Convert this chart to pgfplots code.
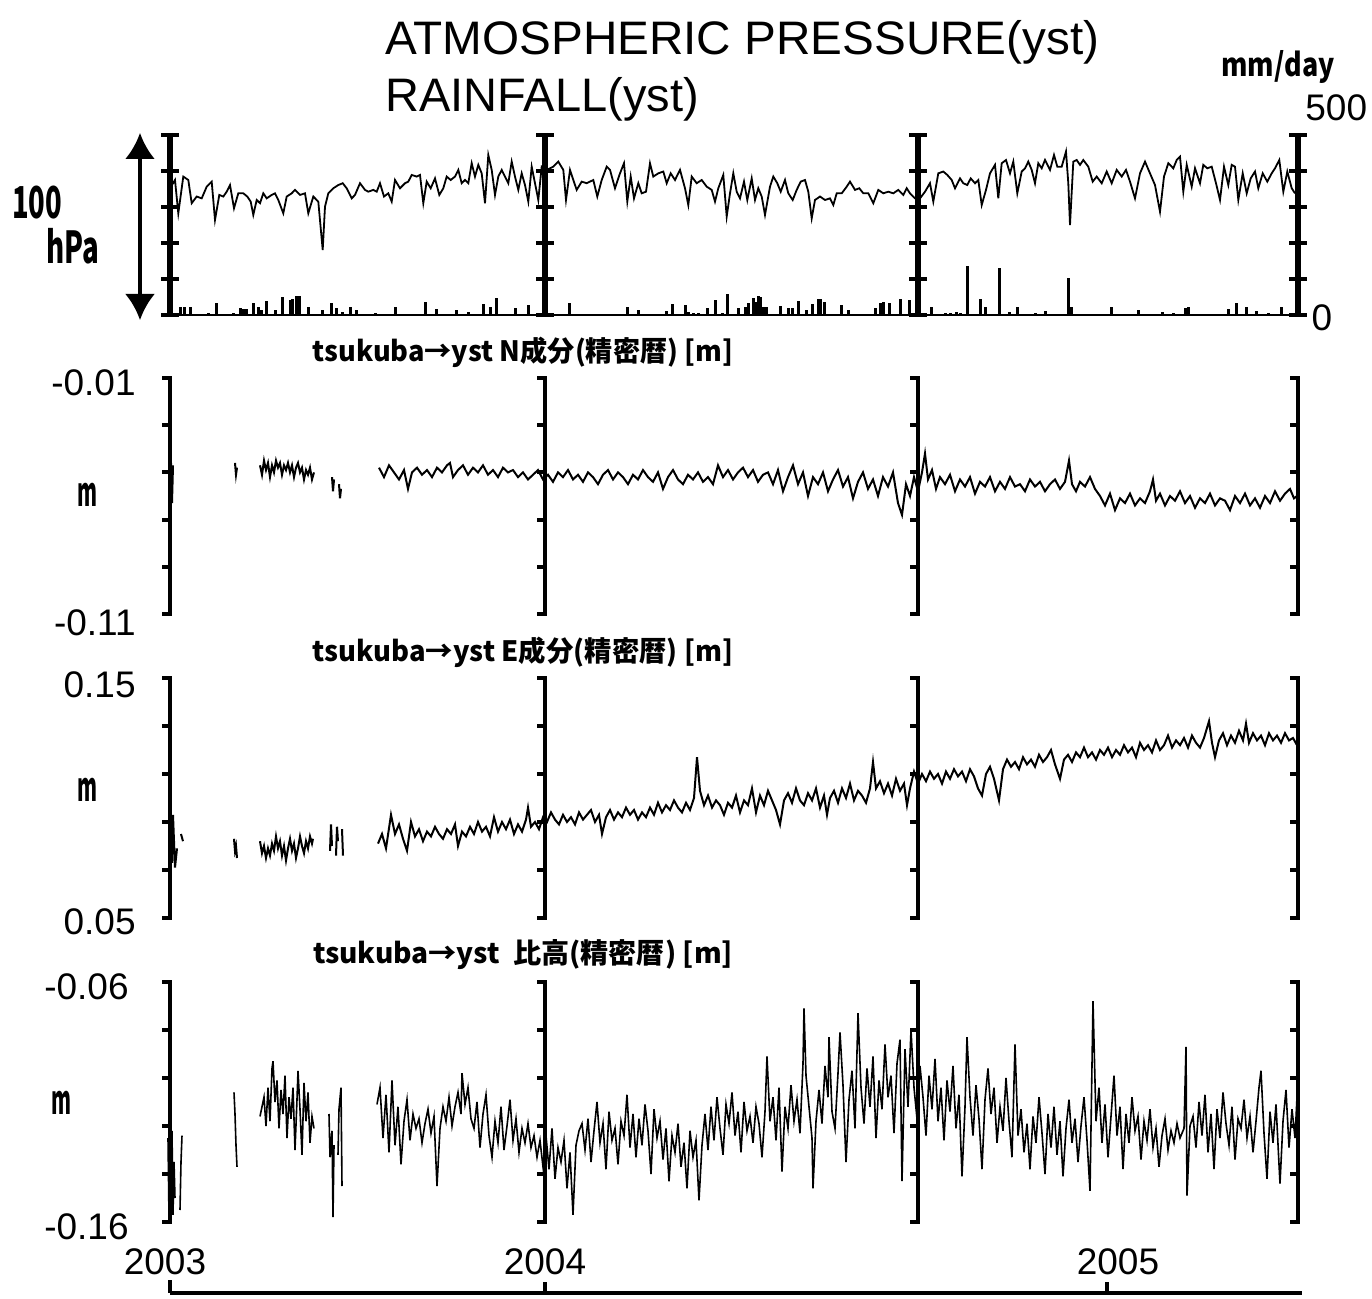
\documentclass[border=0pt]{standalone}
\usepackage{pgfplots}
\pgfplotsset{compat=1.18}
\usepackage{graphicx}
\usepackage{fontspec}
\setmainfont{Liberation Sans}
\newfontfamily\cjk{Noto Sans CJK JP}
\usetikzlibrary{arrows.meta}
\begin{document}
\begin{tikzpicture}[x=0.5pt,y=-0.5pt]
\path[use as bounding box] (0,0) rectangle (1372,1299);
\pgfplotsset{panel/.style={scale only axis, width=564pt, xmin=170, xmax=1298, axis lines=none, anchor=south west, clip=false, unbounded coords=jump}}

% ---------- Panel 1: rainfall ----------
\begin{axis}[panel, at={(85pt,-157.5pt)}, height=90pt, ymin=0, ymax=500]
\addplot[ycomb, black, line width=1.5pt] coordinates {
(180.7,23)(184,23)(190,21)(208.3,5)(216,32)(233.3,6)(240,19)(243.3,16)(246,16)(253.3,32)(258.3,23)(261.7,14)(266.7,39)(275,14)(282.7,51)(290,42)(292,44)(296.7,54)(299.3,54)(308.3,23)(322.7,14)(331.7,34)(336.7,19)(342.7,9)(350.7,23)(356.7,14)(375,6)(395,23)(425,37)(436,18)(456.7,14)(468.3,9)(483.3,31)(490,23)(496.7,46)(515,20)(528.3,28)(540,6)
(569.3,34)(627.3,21)(638.3,14)(666,12)(672.7,30)(685,28)(688.3,9)(693.3,5)(698.3,5)(707.3,20)(715.7,42)(722.7,5)(727.7,58)(738.3,19)(745,23)(748.3,32)(753.3,46)(756,37)(758.3,54)(760,51)(763.3,23)(766,23)(780,26)(788.3,19)(792.7,20)(798.3,40)(806.7,14)(812.7,30)(818.3,44)(820.7,44)(824,37)(841.7,28)(848.3,14)(875,20)(880,34)(883.3,37)(889.3,34)(900,44)(909.3,42)
(931.7,21)(945,5)(950,5)(956.7,9)(960,6)(967.3,136)(980.7,44)(985,21)(999.3,130)(1009.3,9)(1017.3,23)(1035,5)(1045,11)(1068.3,102)(1071.7,23)(1111.7,21)(1138.3,14)(1162.7,9)(1173.3,5)(1185,19)(1188.3,23)(1228.3,17)(1236.7,32)(1246.7,21)(1256.7,12)(1268.3,6)(1281.7,23)
};
\end{axis}

% ---------- Panel 1: pressure ----------
\begin{axis}[panel, at={(85pt,-157.5pt)}, height=90pt, ymin=940, ymax=1040]
\addplot[black, line width=0.9pt] coordinates {
(170.0,1010.4)(175.0,1015.0)(178.3,996.5)(183.3,1016.9)(188.3,1015.0)(191.7,1002.1)(196.7,1005.8)(201.7,1004.8)(206.7,1011.3)(211.7,1014.1)(215.0,992.8)(219.3,1006.7)(223.3,1005.8)(226.7,1008.5)(230.0,1012.2)(234.0,999.3)(238.3,1007.6)(243.3,1007.6)(247.3,1005.8)(250.7,1003.0)(253.3,995.6)(256.7,1003.9)(260.0,1002.1)(263.3,1007.6)(266.7,1004.8)(271.7,1006.7)(275.0,1007.6)(278.3,1003.9)(283.3,996.5)(286.7,1005.8)(291.7,1007.6)(295.0,1009.5)(300.0,1006.7)(305.0,1007.6)(308.3,996.5)(313.3,1005.8)(318.3,1003.0)(322.7,976.1)(325.0,1000.2)(328.3,1007.6)(333.3,1010.4)(338.3,1012.2)(342.7,1013.2)(346.7,1010.4)(351.7,1004.8)(355.0,1006.7)(360.0,1013.2)(365.0,1009.5)(368.3,1008.5)(373.3,1009.5)(376.7,1008.5)(380.0,1013.2)(384.0,1005.8)(388.3,1007.6)(391.7,1003.0)(395.0,1015.0)(400.0,1010.4)(405.0,1013.2)(408.3,1014.1)(411.7,1017.8)(416.7,1016.9)(420.0,1017.8)(423.3,1002.1)(426.7,1014.1)(430.7,1010.4)(435.0,1015.9)(439.3,1006.7)(443.3,1010.4)(446.7,1016.9)(450.7,1015.0)(455.0,1016.9)(458.3,1020.6)(461.7,1013.2)(465.0,1015.0)(468.3,1013.2)(471.7,1024.3)(475.0,1016.9)(478.3,1023.4)(481.7,1018.7)(485.0,1002.1)(488.3,1028.9)(491.7,1020.6)(495.0,1006.7)(498.3,1016.9)(501.7,1020.6)(505.0,1016.9)(508.3,1013.2)(511.7,1025.2)(515.0,1016.9)(518.3,1009.5)(521.7,1018.7)(525.0,1012.2)(528.3,1003.0)(531.7,1022.4)(535.0,1013.2)(538.3,1003.9)(541.7,1022.4)
(546.7,1020.6)(553.3,1022.4)(558.3,1025.2)(563.3,1020.6)(566.0,1003.9)(570.0,1020.6)(573.3,1015.0)(576.7,1009.5)(581.7,1014.1)(586.7,1013.2)(593.3,1015.0)(597.3,1005.8)(601.7,1015.0)(606.7,1022.4)(610.0,1020.6)(615.0,1010.4)(620.0,1018.7)(624.0,1024.3)(627.3,1003.0)(630.7,1016.9)(634.0,1004.8)(638.3,1013.2)(641.7,1007.6)(646.0,1008.5)(650.0,1024.3)(653.3,1016.9)(658.3,1018.7)(663.3,1019.7)(666.7,1013.2)(670.7,1018.7)(675.0,1015.0)(680.0,1020.6)(685.0,1010.4)(688.3,1001.1)(691.7,1016.9)(696.7,1013.2)(701.7,1015.0)(706.7,1011.3)(711.7,1009.5)(715.0,1003.0)(718.3,1010.4)(723.3,1017.8)(726.7,994.7)(730.0,1007.6)(733.3,1018.7)(736.7,1008.5)(740.0,1004.8)(744.0,1014.1)(747.3,1003.9)(751.7,1015.9)(755.0,1003.9)(758.3,1010.4)(761.7,1005.8)(765.0,995.6)(770.0,1011.3)(773.3,1016.9)(777.3,1013.2)(780.7,1008.5)(785.0,1015.0)(788.3,1007.6)(792.7,1003.9)(796.7,1009.5)(800.7,1014.1)(805.0,1015.0)(808.3,1008.5)(811.7,993.7)(815.0,1003.9)(820.0,1005.8)(825.0,1003.9)(830.0,1004.8)(833.3,1001.1)(836.7,1007.6)(841.7,1007.6)(846.7,1011.3)(850.0,1014.1)(855.0,1009.5)(859.3,1010.4)(863.3,1007.6)(868.3,1007.6)(873.3,1002.1)(878.3,1009.5)(883.3,1007.6)(888.3,1008.5)(893.3,1007.6)(898.3,1009.5)(903.3,1006.7)(906.7,1010.4)(910.0,1007.6)(915.0,1004.8)(918.3,1003.9)
(920.0,1004.8)(925.0,1008.5)(930.0,1013.2)(933.3,1003.0)(938.3,1018.7)(943.3,1019.7)(947.3,1017.8)(951.7,1015.0)(955.0,1010.4)(960.0,1015.9)(963.3,1013.2)(967.3,1012.2)(970.7,1015.9)(975.0,1013.2)(978.3,1015.0)(981.7,1001.1)(986.0,1009.5)(990.0,1018.7)(995.0,1023.4)(998.3,1004.8)(1001.7,1024.3)(1006.0,1026.1)(1010.0,1018.7)(1013.3,1025.2)(1017.3,1007.6)(1021.7,1019.7)(1025.0,1021.5)(1028.3,1025.2)(1031.7,1020.6)(1035.0,1013.2)(1038.3,1024.3)(1041.7,1021.5)(1045.0,1026.1)(1050.0,1020.6)(1054.0,1028.9)(1057.3,1022.4)(1061.7,1022.4)(1066.0,1030.8)(1068.3,1013.2)(1070.0,990.0)(1073.3,1025.2)(1076.7,1026.1)(1080.0,1023.4)(1083.3,1026.1)(1088.3,1022.4)(1092.7,1014.1)(1096.7,1016.9)(1101.7,1013.2)(1106.7,1019.7)(1111.7,1013.2)(1116.7,1020.6)(1121.7,1016.9)(1126.0,1020.6)(1130.0,1014.1)(1135.0,1004.8)(1140.0,1018.7)(1145.0,1025.2)(1150.0,1018.7)(1155.0,1012.2)(1160.0,997.4)(1164.0,1016.9)(1168.3,1024.3)(1173.3,1021.5)(1176.7,1026.1)(1180.0,1028.0)(1183.3,1008.5)(1186.7,1023.4)(1191.7,1011.3)(1195.0,1021.5)(1200.0,1013.2)(1203.3,1023.4)(1207.3,1021.5)(1211.7,1022.4)(1216.0,1013.2)(1220.0,1003.9)(1224.0,1022.4)(1228.3,1012.2)(1231.7,1023.4)(1235.0,1022.4)(1238.3,1003.9)(1242.7,1018.7)(1246.7,1007.6)(1250.7,1015.9)(1255.0,1019.7)(1258.3,1010.4)(1262.7,1018.7)(1267.3,1014.1)(1271.7,1018.7)(1275.0,1021.5)(1279.3,1026.1)(1283.3,1008.5)(1287.3,1019.7)(1291.7,1010.4)(1295.0,1007.6)
};
\end{axis}

% ---------- Panel 2: N ----------
\begin{axis}[panel, at={(85pt,-307pt)}, height=118pt, ymin=-0.11, ymax=-0.01]
\addplot[black, line width=1pt] coordinates {
(171,-0.046)(172,-0.063)(173,-0.047)(174,nan)
(235,-0.046)(236,-0.051)(237,-0.048)(238,nan)
(260,-0.047)(262,-0.051)(264,-0.045)(266,-0.049)(268,-0.046)(270,-0.052)(272,-0.047)(274,-0.050)(276,-0.045)(278,-0.048)(280,-0.046)(282,-0.051)(284,-0.047)(286,-0.049)(288,-0.046)(290,-0.050)(292,-0.047)(294,-0.052)(296,-0.048)(298,-0.046)(300,-0.050)(302,-0.048)(304,-0.053)(306,-0.049)(308,-0.051)(310,-0.048)(312,-0.053)(314,-0.050)(315,nan)
(332,-0.052)(333,-0.058)(334,-0.053)(335,nan)(339,-0.055)(340,-0.061)(341,-0.057)(342,nan)
(379,-0.048)(384,-0.052)(389,-0.047)(394,-0.050)(399,-0.053)(404,-0.049)(408,-0.057)(412,-0.050)(417,-0.048)(422,-0.051)(427,-0.049)(432,-0.052)(437,-0.048)(442,-0.050)(447,-0.047)(450,-0.046)(453,-0.052)(458,-0.049)(463,-0.047)(468,-0.051)(473,-0.048)(478,-0.050)(483,-0.047)(488,-0.051)(493,-0.049)(498,-0.052)(503,-0.048)(508,-0.050)(513,-0.049)(518,-0.052)(523,-0.050)(528,-0.053)(533,-0.051)(538,-0.049)(543,-0.053)(548,-0.051)(553,-0.054)(558,-0.050)(563,-0.052)(568,-0.049)(573,-0.053)(578,-0.051)(583,-0.054)(588,-0.050)(593,-0.052)(598,-0.055)(603,-0.051)(608,-0.049)(613,-0.053)(618,-0.050)(623,-0.052)(628,-0.055)(633,-0.051)(638,-0.053)(643,-0.049)(648,-0.052)(653,-0.054)(658,-0.050)(663,-0.057)(668,-0.052)(673,-0.049)(678,-0.053)(683,-0.055)(688,-0.051)(693,-0.053)(698,-0.050)(703,-0.054)(708,-0.052)(713,-0.055)(718,-0.047)(723,-0.052)(728,-0.049)(733,-0.053)(738,-0.050)(743,-0.048)(748,-0.052)(753,-0.049)(758,-0.054)(763,-0.051)(768,-0.050)(773,-0.055)(778,-0.049)(783,-0.058)(788,-0.052)(793,-0.047)(798,-0.055)(803,-0.050)(808,-0.060)(813,-0.052)(818,-0.055)(823,-0.050)(828,-0.058)(833,-0.053)(838,-0.049)(843,-0.056)(848,-0.052)(853,-0.061)(858,-0.054)(863,-0.050)(868,-0.057)(873,-0.053)(878,-0.060)(883,-0.052)(888,-0.056)(893,-0.050)(898,-0.063)(902,-0.068)(906,-0.055)(910,-0.060)(914,-0.052)(918,-0.058)(922,-0.050)(925,-0.042)(928,-0.053)(932,-0.049)(936,-0.057)(940,-0.052)(945,-0.055)(950,-0.051)(955,-0.058)(960,-0.053)(965,-0.056)(970,-0.052)(975,-0.059)(980,-0.054)(985,-0.056)(990,-0.052)(995,-0.058)(1000,-0.054)(1005,-0.057)(1010,-0.052)(1015,-0.056)(1020,-0.055)(1025,-0.058)(1030,-0.053)(1035,-0.056)(1040,-0.054)(1045,-0.058)(1050,-0.055)(1055,-0.053)(1060,-0.057)(1065,-0.054)(1069,-0.045)(1072,-0.055)(1076,-0.058)(1080,-0.054)(1085,-0.056)(1090,-0.052)(1095,-0.057)(1100,-0.060)(1105,-0.064)(1110,-0.059)(1115,-0.066)(1120,-0.061)(1125,-0.063)(1130,-0.059)(1135,-0.064)(1140,-0.061)(1145,-0.063)(1150,-0.058)(1153,-0.053)(1156,-0.062)(1160,-0.059)(1165,-0.064)(1170,-0.060)(1175,-0.062)(1180,-0.058)(1185,-0.063)(1190,-0.060)(1195,-0.065)(1200,-0.061)(1205,-0.063)(1210,-0.059)(1215,-0.064)(1220,-0.061)(1225,-0.062)(1230,-0.066)(1235,-0.060)(1240,-0.063)(1245,-0.059)(1250,-0.064)(1255,-0.061)(1260,-0.065)(1265,-0.060)(1270,-0.063)(1275,-0.058)(1280,-0.062)(1285,-0.059)(1290,-0.057)(1294,-0.061)(1297,-0.060)(1298,-0.080)
};
\end{axis}

% ---------- Panel 3: E ----------
\begin{axis}[panel, at={(85pt,-459pt)}, height=120pt, ymin=0.05, ymax=0.15]
\addplot[black, line width=1pt] coordinates {
(171,0.086)(172,0.073)(173,0.093)(175,0.071)(177,0.079)(178,nan)(181,0.085)(183,0.082)(184,nan)
(234,0.083)(235,0.078)(236,0.080)(237,0.075)(238,nan)
(260,0.082)(262,0.077)(264,0.080)(266,0.075)(268,0.079)(270,0.076)(272,0.081)(274,0.078)(276,0.084)(278,0.079)(280,0.082)(282,0.076)(284,0.080)(286,0.074)(288,0.079)(290,0.083)(292,0.078)(294,0.081)(296,0.075)(298,0.079)(300,0.084)(302,0.080)(304,0.077)(306,0.082)(308,0.079)(310,0.084)(312,0.081)(313,0.083)(314,nan)
(330,0.078)(331,0.089)(332,0.080)(333,nan)(336,0.076)(337,0.088)(338,0.082)(339,nan)(342,0.087)(343,0.076)(344,nan)
(378,0.081)(382,0.085)(386,0.079)(391,0.093)(395,0.085)(399,0.089)(403,0.083)(407,0.078)(411,0.090)(415,0.084)(419,0.087)(423,0.082)(427,0.086)(431,0.084)(435,0.088)(439,0.085)(443,0.083)(447,0.087)(451,0.085)(455,0.089)(458,0.080)(462,0.086)(466,0.084)(470,0.088)(474,0.085)(478,0.090)(482,0.086)(486,0.088)(490,0.084)(494,0.092)(498,0.086)(502,0.090)(506,0.087)(510,0.091)(514,0.085)(518,0.089)(522,0.086)(526,0.091)(528,0.096)(531,0.088)(535,0.090)(539,0.087)(543,0.092)(547,0.090)(551,0.094)(555,0.091)(559,0.089)(563,0.093)(567,0.090)(571,0.092)(575,0.089)(579,0.094)(583,0.091)(587,0.093)(591,0.095)(595,0.090)(599,0.093)(602,0.085)(606,0.092)(610,0.095)(614,0.091)(618,0.094)(622,0.092)(626,0.096)(630,0.093)(634,0.095)(638,0.091)(642,0.094)(646,0.092)(650,0.096)(654,0.093)(658,0.098)(662,0.094)(666,0.097)(670,0.095)(674,0.099)(678,0.096)(682,0.094)(686,0.098)(690,0.095)(694,0.100)(697,0.117)(700,0.103)(704,0.097)(708,0.101)(712,0.096)(716,0.099)(720,0.097)(724,0.093)(728,0.098)(732,0.096)(736,0.101)(740,0.094)(744,0.099)(748,0.097)(752,0.104)(756,0.094)(760,0.101)(764,0.097)(768,0.103)(772,0.099)(776,0.095)(780,0.089)(784,0.099)(788,0.102)(792,0.098)(796,0.104)(800,0.099)(804,0.097)(808,0.102)(812,0.099)(816,0.104)(820,0.096)(824,0.101)(827,0.093)(830,0.100)(834,0.103)(838,0.098)(842,0.104)(846,0.100)(850,0.106)(854,0.099)(858,0.103)(862,0.101)(866,0.098)(870,0.104)(873,0.115)(876,0.104)(880,0.107)(884,0.102)(888,0.106)(892,0.101)(896,0.108)(900,0.103)(904,0.106)(907,0.097)(910,0.104)(914,0.111)(918,0.106)(922,0.110)(926,0.107)(930,0.111)(934,0.108)(938,0.110)(942,0.106)(946,0.111)(950,0.108)(954,0.112)(958,0.109)(962,0.111)(966,0.107)(970,0.112)(974,0.109)(978,0.104)(982,0.101)(986,0.110)(990,0.113)(994,0.108)(999,0.099)(1003,0.112)(1007,0.116)(1011,0.113)(1015,0.115)(1019,0.112)(1023,0.117)(1027,0.114)(1031,0.116)(1035,0.113)(1039,0.118)(1043,0.115)(1047,0.117)(1051,0.120)(1055,0.114)(1060,0.108)(1064,0.116)(1068,0.118)(1072,0.115)(1076,0.119)(1080,0.117)(1084,0.121)(1088,0.117)(1092,0.119)(1096,0.116)(1100,0.120)(1104,0.118)(1108,0.121)(1112,0.117)(1116,0.120)(1120,0.118)(1124,0.122)(1128,0.119)(1132,0.121)(1136,0.117)(1140,0.123)(1144,0.120)(1148,0.122)(1152,0.119)(1156,0.124)(1160,0.120)(1164,0.122)(1168,0.126)(1172,0.121)(1176,0.124)(1180,0.122)(1184,0.125)(1188,0.121)(1192,0.126)(1196,0.123)(1200,0.121)(1204,0.125)(1209,0.132)(1212,0.123)(1215,0.117)(1219,0.124)(1223,0.127)(1227,0.122)(1231,0.126)(1235,0.123)(1239,0.128)(1243,0.124)(1246,0.131)(1249,0.123)(1253,0.127)(1257,0.124)(1261,0.126)(1265,0.122)(1269,0.127)(1273,0.124)(1277,0.126)(1281,0.123)(1285,0.127)(1289,0.124)(1293,0.125)(1297,0.122)(1298,0.130)
};
\end{axis}

% ---------- Panel 4: height ----------
\begin{axis}[panel, at={(85pt,-611pt)}, height=120pt, ymin=-0.16, ymax=-0.06]
\addplot[black, line width=0.8pt] coordinates {
(168,-0.125)(169,-0.158)(170,-0.130)(171,-0.160)(172,-0.122)(173,-0.157)(174,-0.135)(175,-0.150)(176,nan)(180,-0.155)(181,-0.135)(182,-0.124)(183,nan)
(234,-0.106)(235,-0.115)(236,-0.128)(237,-0.137)(238,nan)
(260,-0.116)(262,-0.112)(264,-0.108)(266,-0.120)(268,-0.104)(270,-0.118)(272,-0.096)(273,-0.093)(275,-0.110)(277,-0.101)(279,-0.121)(281,-0.105)(283,-0.115)(285,-0.099)(287,-0.125)(289,-0.108)(291,-0.117)(293,-0.104)(295,-0.130)(297,-0.109)(298,-0.097)(300,-0.113)(302,-0.132)(304,-0.102)(306,-0.118)(308,-0.106)(310,-0.127)(312,-0.116)(314,-0.121)(315,nan)
(329,-0.115)(330,-0.133)(332,-0.122)(333,-0.158)(334,-0.128)(335,nan)(338,-0.132)(339,-0.113)(341,-0.104)(342,-0.145)(343,nan)
(377,-0.111)(380,-0.104)(383,-0.125)(386,-0.107)(389,-0.131)(392,-0.101)(395,-0.128)(398,-0.112)(401,-0.136)(404,-0.118)(407,-0.109)(410,-0.126)(413,-0.115)(416,-0.121)(419,-0.117)(422,-0.127)(425,-0.119)(428,-0.113)(431,-0.123)(434,-0.116)(437,-0.145)(440,-0.121)(443,-0.112)(446,-0.118)(449,-0.108)(452,-0.120)(455,-0.112)(458,-0.106)(461,-0.115)(462,-0.098)(465,-0.111)(468,-0.104)(471,-0.117)(474,-0.121)(477,-0.110)(480,-0.129)(483,-0.115)(486,-0.107)(489,-0.124)(492,-0.133)(495,-0.118)(498,-0.127)(501,-0.112)(504,-0.130)(507,-0.120)(510,-0.109)(513,-0.126)(516,-0.117)(519,-0.131)(522,-0.121)(525,-0.127)(528,-0.119)(531,-0.129)(534,-0.124)(537,-0.133)(540,-0.126)(543,-0.137)(546,-0.124)(549,-0.138)(552,-0.121)(555,-0.142)(558,-0.129)(561,-0.135)(564,-0.126)(567,-0.146)(570,-0.131)(573,-0.157)(576,-0.128)(579,-0.122)(582,-0.119)(585,-0.130)(588,-0.117)(591,-0.135)(594,-0.122)(597,-0.110)(600,-0.127)(603,-0.119)(606,-0.138)(609,-0.114)(612,-0.126)(615,-0.121)(618,-0.136)(621,-0.118)(624,-0.124)(627,-0.107)(630,-0.129)(633,-0.115)(636,-0.133)(639,-0.117)(642,-0.128)(645,-0.111)(648,-0.122)(651,-0.140)(654,-0.113)(657,-0.125)(660,-0.118)(663,-0.134)(666,-0.121)(669,-0.143)(672,-0.124)(675,-0.131)(678,-0.119)(681,-0.137)(684,-0.127)(687,-0.146)(690,-0.122)(693,-0.133)(696,-0.126)(699,-0.151)(702,-0.128)(705,-0.115)(708,-0.130)(711,-0.112)(714,-0.126)(717,-0.108)(720,-0.121)(723,-0.132)(726,-0.111)(729,-0.119)(732,-0.106)(735,-0.124)(738,-0.114)(741,-0.131)(744,-0.110)(747,-0.122)(750,-0.116)(753,-0.127)(756,-0.112)(759,-0.119)(762,-0.133)(765,-0.114)(767,-0.091)(770,-0.118)(773,-0.108)(776,-0.126)(779,-0.104)(782,-0.139)(785,-0.112)(788,-0.121)(791,-0.103)(794,-0.118)(797,-0.109)(800,-0.123)(803,-0.094)(804,-0.071)(806,-0.099)(809,-0.112)(812,-0.125)(813,-0.146)(816,-0.118)(819,-0.105)(822,-0.119)(825,-0.095)(828,-0.108)(829,-0.083)(832,-0.114)(835,-0.121)(838,-0.098)(840,-0.081)(843,-0.103)(846,-0.135)(849,-0.109)(852,-0.097)(855,-0.121)(858,-0.073)(861,-0.104)(864,-0.119)(867,-0.096)(870,-0.112)(873,-0.091)(876,-0.125)(879,-0.101)(882,-0.113)(885,-0.086)(888,-0.108)(891,-0.099)(894,-0.123)(897,-0.094)(900,-0.084)(902,-0.143)(905,-0.088)(908,-0.112)(911,-0.080)(914,-0.104)(917,-0.117)(920,-0.095)(923,-0.108)(926,-0.124)(929,-0.099)(932,-0.113)(935,-0.092)(938,-0.118)(941,-0.104)(944,-0.126)(947,-0.101)(950,-0.114)(953,-0.095)(956,-0.121)(959,-0.107)(962,-0.141)(965,-0.112)(967,-0.083)(970,-0.108)(973,-0.124)(976,-0.103)(979,-0.117)(982,-0.138)(985,-0.109)(988,-0.096)(991,-0.115)(994,-0.104)(997,-0.127)(1000,-0.112)(1003,-0.122)(1006,-0.100)(1009,-0.118)(1012,-0.133)(1015,-0.086)(1018,-0.124)(1021,-0.113)(1024,-0.131)(1027,-0.119)(1030,-0.138)(1033,-0.116)(1036,-0.127)(1039,-0.108)(1042,-0.123)(1045,-0.140)(1048,-0.115)(1051,-0.129)(1054,-0.112)(1057,-0.132)(1060,-0.118)(1063,-0.141)(1066,-0.121)(1069,-0.109)(1072,-0.127)(1075,-0.117)(1078,-0.135)(1081,-0.120)(1084,-0.108)(1087,-0.126)(1090,-0.147)(1093,-0.068)(1096,-0.118)(1099,-0.104)(1102,-0.127)(1105,-0.111)(1108,-0.133)(1111,-0.116)(1114,-0.099)(1117,-0.124)(1120,-0.112)(1123,-0.138)(1126,-0.115)(1129,-0.127)(1132,-0.108)(1135,-0.122)(1138,-0.116)(1141,-0.134)(1144,-0.118)(1147,-0.126)(1150,-0.113)(1153,-0.129)(1156,-0.121)(1159,-0.137)(1162,-0.124)(1165,-0.117)(1168,-0.130)(1171,-0.122)(1174,-0.127)(1177,-0.119)(1180,-0.125)(1184,-0.121)(1186,-0.087)(1187,-0.149)(1190,-0.120)(1193,-0.116)(1196,-0.129)(1199,-0.110)(1202,-0.124)(1205,-0.107)(1208,-0.131)(1211,-0.115)(1214,-0.138)(1217,-0.113)(1220,-0.125)(1223,-0.106)(1226,-0.119)(1229,-0.128)(1232,-0.112)(1235,-0.134)(1238,-0.117)(1241,-0.121)(1244,-0.109)(1247,-0.125)(1250,-0.116)(1253,-0.131)(1256,-0.118)(1259,-0.104)(1261,-0.097)(1264,-0.123)(1267,-0.142)(1270,-0.114)(1273,-0.127)(1276,-0.111)(1279,-0.136)(1280,-0.144)(1283,-0.118)(1286,-0.105)(1289,-0.129)(1292,-0.113)(1295,-0.125)(1297,-0.108)(1298,-0.122)
};
\end{axis}

% ---------- frame decorations ----------
\foreach \x in {170,545,918,1298}{
  \draw[line width=2.6pt] (\x,133) -- (\x,317);
  \foreach \y in {135,171,207,243,279,315}
    \draw[line width=2.2pt] (\x-9,\y) -- (\x+9,\y);
}
\draw[line width=1.4pt] (170,315) -- (1298,315);
\foreach \t/\b in {378/614,678/918,982/1222}{
  \foreach \x in {170,545,918,1298}{
    \draw[line width=2pt, line join=miter] (\x-8,\t) -- (\x,\t) -- (\x,\b) -- (\x-8,\b);
    \foreach \k in {1,2,3,4}
      \draw[line width=2pt] (\x-8,{\t+\k*(\b-\t)/5}) -- (\x,{\t+\k*(\b-\t)/5});
  }
}
% time axis
\draw[line width=2pt] (170,1293) -- (1302,1293);
\draw[line width=2pt] (170,1280) -- (170,1293);
\draw[line width=2pt] (545,1282) -- (545,1293);
\draw[line width=2pt] (1107,1282) -- (1107,1293);
\node[font=\fontsize{18.5}{18.5}\selectfont] at (165,1262) {2003};
\node[font=\fontsize{18.5}{18.5}\selectfont] at (545,1262) {2004};
\node[font=\fontsize{18.5}{18.5}\selectfont] at (1118,1262) {2005};

% titles
\node[anchor=base west, font=\fontsize{23.5}{23.5}\selectfont, inner sep=0pt] at (385,55) {\resizebox{357pt}{\height}{ATMOSPHERIC PRESSURE(yst)}};
\node[anchor=base west, font=\fontsize{23.5}{23.5}\selectfont, inner sep=0pt] at (385,112) {RAINFALL(yst)};

% pressure scale arrow and labels
\draw[line width=2pt, {Latex[length=13pt,width=15pt]}-{Latex[length=13pt,width=15pt]}] (140,133) -- (140,320);
\node at (37,203) {\resizebox{25pt}{\height}{\cjk\bfseries\fontsize{22}{22}\selectfont 100}};
\node at (73,246) {\resizebox{26.5pt}{\height}{\cjk\bfseries\fontsize{22}{22}\selectfont hPa}};
\node at (1278,67) {\resizebox{56.5pt}{\height}{\cjk\bfseries\fontsize{16}{16}\selectfont mm/day}};
\node[anchor=west, font=\fontsize{18.5}{18.5}\selectfont, inner sep=0pt] at (1305,108) {500};
\node[font=\fontsize{18.5}{18.5}\selectfont] at (1322,318) {0};

% y labels
\node[anchor=east, font=\fontsize{18.5}{18.5}\selectfont, inner sep=0pt] at (136,383) {-0.01};
\node[anchor=east, font=\fontsize{18.5}{18.5}\selectfont, inner sep=0pt] at (136,623) {-0.11};
\node[anchor=east, font=\fontsize{18.5}{18.5}\selectfont, inner sep=0pt] at (136,685) {0.15};
\node[anchor=east, font=\fontsize{18.5}{18.5}\selectfont, inner sep=0pt] at (136,922) {0.05};
\node[anchor=east, font=\fontsize{18.5}{18.5}\selectfont, inner sep=0pt] at (129,987) {-0.06};
\node[anchor=east, font=\fontsize{18.5}{18.5}\selectfont, inner sep=0pt] at (129,1227) {-0.16};
\node at (87,495) {\resizebox{10pt}{\height}{\cjk\bfseries\fontsize{20}{20}\selectfont m}};
\node at (87,790) {\resizebox{10pt}{\height}{\cjk\bfseries\fontsize{20}{20}\selectfont m}};
\node at (62,1103) {\resizebox{10pt}{\height}{\cjk\bfseries\fontsize{20}{20}\selectfont m}};

% panel titles
\node at (523,352) {\resizebox{210pt}{\height}{\cjk\bfseries\fontsize{14}{14}\selectfont tsukuba→yst N成分(精密暦) [m]}};
\node at (523,652) {\resizebox{210pt}{\height}{\cjk\bfseries\fontsize{14}{14}\selectfont tsukuba→yst E成分(精密暦) [m]}};
\node at (523,955) {\resizebox{210pt}{\height}{\cjk\bfseries\fontsize{14}{14}\selectfont tsukuba→yst\ \ 比高(精密暦) [m]}};
\end{tikzpicture}
\end{document}
